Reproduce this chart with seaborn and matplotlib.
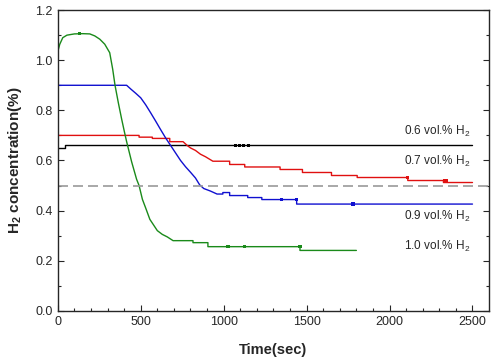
import pandas as pd
import matplotlib
matplotlib.use("Agg")
import matplotlib.pyplot as plt
import seaborn as sns

# readings taken off the original figure (time in sec, H2 in %)
# repeated times mark the vertical jumps of the logger steps
t_06 = [0, 45, 45, 2500]
h_06 = [0.65, 0.65, 0.66, 0.66]

t_07 = [0, 490, 490, 570, 570, 675, 675, 755, 780, 800, 830, 860, 890, 935,
        1036, 1036, 1127, 1127, 1340, 1340, 1475, 1475, 1650, 1650, 1805,
        1805, 2110, 2110, 2325, 2325, 2500]
h_07 = [0.70, 0.70, 0.693, 0.693, 0.688, 0.688, 0.675, 0.675, 0.66, 0.65,
        0.64, 0.625, 0.615, 0.597, 0.597, 0.584, 0.584, 0.574, 0.574, 0.564,
        0.564, 0.552, 0.552, 0.54, 0.54, 0.532, 0.532, 0.52, 0.52, 0.512,
        0.512]

t_09 = [0, 415, 440, 470, 500, 530, 560, 590, 620, 650, 680, 710, 740, 770,
        800, 830, 855, 880, 920, 960, 995, 995, 1036, 1036, 1145, 1145, 1230,
        1230, 1440, 1440, 2500]
h_09 = [0.90, 0.90, 0.885, 0.868, 0.85, 0.822, 0.79, 0.757, 0.723, 0.69,
        0.66, 0.63, 0.60, 0.575, 0.553, 0.53, 0.503, 0.488, 0.478, 0.466,
        0.466, 0.472, 0.472, 0.46, 0.46, 0.452, 0.452, 0.444, 0.444, 0.426,
        0.426]

t_10 = [0, 12, 30, 55, 100, 150, 193, 223, 253, 283, 313, 331, 345, 365, 385,
        403, 415, 430, 445, 460, 475, 490, 510, 530, 555, 580, 600, 630, 660,
        695, 815, 815, 905, 905, 1460, 1460, 1800]
h_10 = [1.035, 1.064, 1.09, 1.10, 1.105, 1.106, 1.105, 1.097, 1.084, 1.064,
        1.03, 0.964, 0.90, 0.83, 0.765, 0.71, 0.675, 0.635, 0.595, 0.56,
        0.525, 0.50, 0.445, 0.41, 0.365, 0.34, 0.32, 0.305, 0.295, 0.28, 0.28,
        0.272, 0.272, 0.256, 0.256, 0.241, 0.241]

# the little square symbols sitting on the traces
mk_t_06 = [1070, 1095, 1120, 1150]
mk_h_06 = [0.66, 0.66, 0.66, 0.66]
mk_t_07 = [2110, 2330, 2345]
mk_h_07 = [0.532, 0.52, 0.52]
mk_t_09 = [1350, 1440, 1780]
mk_h_09 = [0.444, 0.444, 0.426]
mk_t_10 = [130, 1025, 1125, 1460]
mk_h_10 = [1.106, 0.256, 0.256, 0.256]

labels = ["0.6 vol.% H$_2$", "0.7 vol.% H$_2$", "0.9 vol.% H$_2$", "1.0 vol.% H$_2$"]
colors = ["black", "#e01010", "#1010d0", "#1a8a1a"]
label_y = [0.716, 0.596, 0.376, 0.256]

sns.set_style("ticks")
plt.rcParams["font.family"] = ["Liberation Sans", "DejaVu Sans"]
plt.rcParams["mathtext.fontset"] = "custom"
plt.rcParams["mathtext.rm"] = "Liberation Sans"
plt.rcParams["mathtext.bf"] = "Liberation Sans:bold"
plt.rcParams["mathtext.default"] = "regular"

frames = []
for name, t, h in zip(labels, [t_06, t_07, t_09, t_10], [h_06, h_07, h_09, h_10]):
    frames.append(pd.DataFrame({"time": t, "h2": h, "series": name}))
df = pd.concat(frames, ignore_index=True)

marks = []
for name, t, h in zip(labels, [mk_t_06, mk_t_07, mk_t_09, mk_t_10],
                      [mk_h_06, mk_h_07, mk_h_09, mk_h_10]):
    marks.append(pd.DataFrame({"time": t, "h2": h, "series": name}))
dm = pd.concat(marks, ignore_index=True)

fig = plt.figure(figsize=(4.94, 3.61), dpi=100)
ax = fig.add_axes([0.117, 0.139, 0.873, 0.833])

sns.lineplot(data=df, x="time", y="h2", hue="series", palette=colors,
             linewidth=1.0, legend=False, ax=ax, estimator=None, sort=False)
sns.scatterplot(data=dm, x="time", y="h2", hue="series", palette=colors,
                marker="s", s=6, linewidth=0, legend=False, ax=ax)

ax.axhline(0.5, color="#999999", linestyle=(0, (6, 3)), linewidth=1.2)

for lab, y in zip(labels, label_y):
    ax.text(2490, y, lab, ha="right", va="center", fontsize=8.5)

ax.set_xlim(0, 2600)
ax.set_ylim(0, 1.2)
ax.set_xticks([0, 500, 1000, 1500, 2000, 2500])
ax.set_xticks(range(0, 2600, 100), minor=True)
ax.set_yticks([0.0, 0.2, 0.4, 0.6, 0.8, 1.0, 1.2])
ax.set_yticks([i / 10 for i in range(13)], minor=True)
ax.set_yticklabels(["0.0", "0.2", "0.4", "0.6", "0.8", "1.0", "1.2"])
ax.tick_params(which="both", direction="in", right=True, top=False, labelsize=9)
ax.tick_params(which="major", length=4, width=0.8)
ax.tick_params(which="minor", length=2.5, width=0.8)
for s in ax.spines.values():
    s.set_visible(True)
    s.set_linewidth(1.0)

ax.set_xlabel("Time(sec)", fontsize=10.5, fontweight="bold", labelpad=11)
ax.set_ylabel("$\\mathbf{H_2}$ concentration(%)", fontsize=11, fontweight="bold",
              labelpad=8)

fig.savefig("out.png", dpi=100)
